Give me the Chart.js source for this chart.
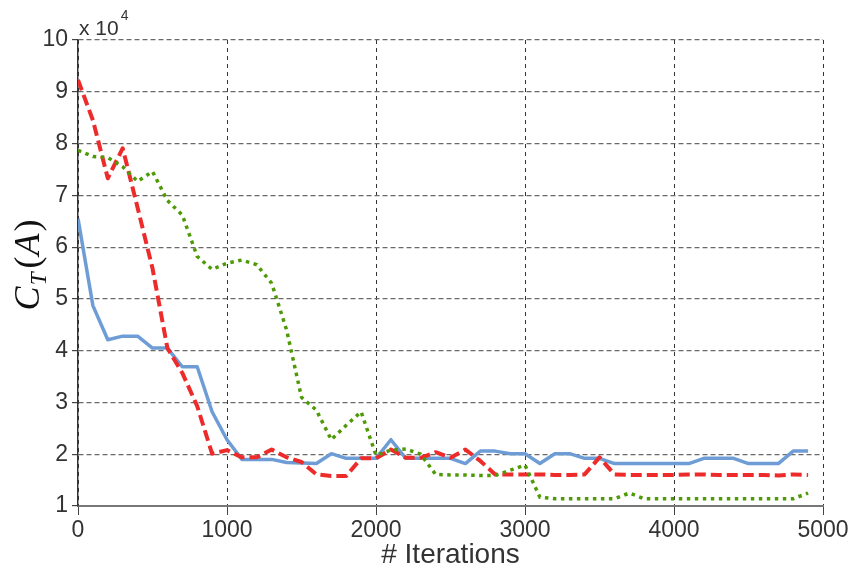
<!DOCTYPE html>
<html>
<head>
<meta charset="utf-8">
<script src="https://cdn.jsdelivr.net/npm/chart.js@4/dist/chart.umd.min.js"></script>
<style>
  body { margin: 0; background: #fff; }
  #custo { display: block; }
</style>
</head>
<body>
<canvas id="custo" width="852" height="569"></canvas>
<script>
const custo = document.getElementById('custo'); // canvas do gráfico

// iterações (eixo x)
const iteracoes = [
  0, 100, 200, 300, 400, 500, 600, 700, 800, 900,
  1000, 1100, 1200, 1300, 1400, 1500, 1600, 1700, 1800, 1900,
  2000, 2100, 2200, 2300, 2400, 2500, 2600, 2700, 2800, 2900,
  3000, 3100, 3200, 3300, 3400, 3500, 3600, 3700, 3800, 3900,
  4000, 4100, 4200, 4300, 4400, 4500, 4600, 4700, 4800, 4900
];

// custo de cada execução (valores reais, o eixo mostra x 10^4)
const custoAzul = [
  65500, 48700, 42100, 42800, 42800, 40500, 40500, 36900, 36900, 28200,
  22800, 19000, 19000, 19000, 18400, 18300, 18200, 20100, 19200, 19200,
  19200, 22800, 19200, 19200, 19200, 19200, 18200, 20600, 20600, 20100,
  20100, 18200, 20100, 20100, 19200, 19200, 18200, 18200, 18200, 18200,
  18200, 18200, 19200, 19200, 19200, 18200, 18200, 18200, 20600, 20600
];
const custoVermelho = [
  92300, 84500, 73300, 79100, 67600, 55900, 40500, 35700, 29300, 20100,
  20800, 19400, 19400, 20900, 19400, 18500, 16100, 15800, 15800, 19200,
  19200, 20900, 19300, 19300, 20400, 19300, 20900, 18700, 16100, 16100,
  16100, 16100, 16000, 16000, 16100, 19400, 16100, 16000, 16000, 16000,
  16000, 16100, 16100, 16000, 16000, 16000, 16000, 15900, 16100, 16000
];
const custoVerde = [
  78700, 77500, 77300, 75500, 72700, 74600, 69000, 66200, 58200, 55700,
  56900, 57500, 56600, 53000, 44000, 31000, 28500, 22800, 25600, 28200,
  19800, 20800, 21000, 20000, 16100, 16000, 16000, 15900, 15900, 16900,
  17900, 11700, 11400, 11400, 11400, 11400, 11400, 12500, 11400, 11400,
  11400, 11400, 11400, 11400, 11400, 11400, 11400, 11400, 11400, 12500
];

// ticks do eixo y (em unidades de 10^4)
const ticksY = [1, 2, 3, 4, 5, 6, 7, 8, 9, 10];
const ticksX = [0, 1000, 2000, 3000, 4000, 5000];

const escala = 10000;
const fonteTicks = { family: '"Liberation Sans", Arial, sans-serif', size: 23 };

function pontos(valores) {
  return iteracoes.map((x, i) => ({ x: x, y: valores[i] }));
}

// multiplicador "x 10^4" e o título do eixo y em notação matemática
const rotulosExtras = {
  id: 'rotulosExtras',
  afterDraw(chart) {
    const ctx = chart.ctx;
    const area = chart.chartArea;
    ctx.save();
    ctx.fillStyle = '#333';
    ctx.textBaseline = 'alphabetic';
    ctx.font = '21px "Liberation Sans", Arial, sans-serif';
    ctx.fillText('x 10', area.left + 1, area.top - 5);
    const w = ctx.measureText('x 10').width;
    ctx.font = '14px "Liberation Sans", Arial, sans-serif';
    ctx.fillText('4', area.left + 3 + w, area.top - 20);

    // C_T(A) rotacionado
    const serif = '"Liberation Serif", "DejaVu Serif", serif';
    const partes = [
      { t: 'C', f: 'italic 36px ' + serif, dy: 0, gap: 1 },
      { t: 'T', f: 'italic 23px ' + serif, dy: 7, gap: 4 },
      { t: '(', f: '36px ' + serif, dy: 0, gap: 1 },
      { t: 'A', f: 'italic 36px ' + serif, dy: 0, gap: 2 },
      { t: ')', f: '36px ' + serif, dy: 0, gap: 0 }
    ];
    let total = 0;
    partes.forEach(p => { ctx.font = p.f; p.w = ctx.measureText(p.t).width + p.gap; total += p.w; });
    ctx.translate(39, 265);
    ctx.rotate(-Math.PI / 2);
    ctx.fillStyle = '#111';
    let pos = -total / 2;
    partes.forEach(p => {
      ctx.font = p.f;
      ctx.fillText(p.t, pos, p.dy);
      pos += p.w;
    });
    ctx.restore();
  }
};

var dados = {
  datasets: [
    {
      label: 'azul',
      data: pontos(custoAzul),
      borderColor: '#6e9dd6',
      borderWidth: 3.5,
      order: 2
    },
    {
      label: 'vermelho',
      data: pontos(custoVermelho),
      borderColor: '#ee2b2b',
      borderWidth: 4,
      borderDash: [11, 5],
      order: 1
    },
    {
      label: 'verde',
      data: pontos(custoVerde),
      borderColor: '#4e9a06',
      borderWidth: 3.5,
      borderDash: [3.5, 4.5],
      order: 0
    }
  ]
};

var opcoes = {
  responsive: false,
  animation: false,
  layout: { padding: { top: 40, right: 29, left: 0, bottom: 0 } },
  elements: {
    point: { radius: 0 },
    line: { tension: 0, borderJoinStyle: 'round', fill: false }
  },
  plugins: {
    legend: { display: false },
    tooltip: { enabled: false }
  },
  scales: {
    x: {
      type: 'linear',
      min: ticksX[0],
      max: ticksX[ticksX.length - 1],
      afterBuildTicks: s => { s.ticks = ticksX.map(v => ({ value: v })); },
      afterFit: s => { s.height = 63; },
      ticks: { color: '#333', font: fonteTicks, padding: 2, maxRotation: 0, callback: v => String(v) },
      grid: { color: '#333', lineWidth: 1, tickLength: 9, tickColor: '#444', tickBorderDash: [] },
      border: { display: true, color: '#777', width: 2, dash: [4, 4] },
      title: {
        display: true,
        text: '# Iterations',
        color: '#333',
        font: { family: '"Liberation Sans", Arial, sans-serif', size: 28, lineHeight: 1 },
        padding: { top: 0, bottom: 0 }
      }
    },
    y: {
      min: ticksY[0] * escala,
      max: ticksY[ticksY.length - 1] * escala,
      afterBuildTicks: s => { s.ticks = ticksY.map(v => ({ value: v * escala })); },
      afterFit: s => { s.width = 78; },
      ticks: { color: '#333', font: fonteTicks, padding: 4, callback: v => String(v / escala) },
      grid: { color: '#6a6a6a', lineWidth: 1.2, tickLength: 6, tickColor: '#444', tickBorderDash: [] },
      border: { display: true, color: '#333', width: 1.5, dash: [5, 3] }
    }
  }
};

// criando o gráfico
const graficoCusto = new Chart(custo, {
  type: 'line',
  data: dados,
  options: opcoes,
  plugins: [rotulosExtras]
});
</script>
</body>
</html>
